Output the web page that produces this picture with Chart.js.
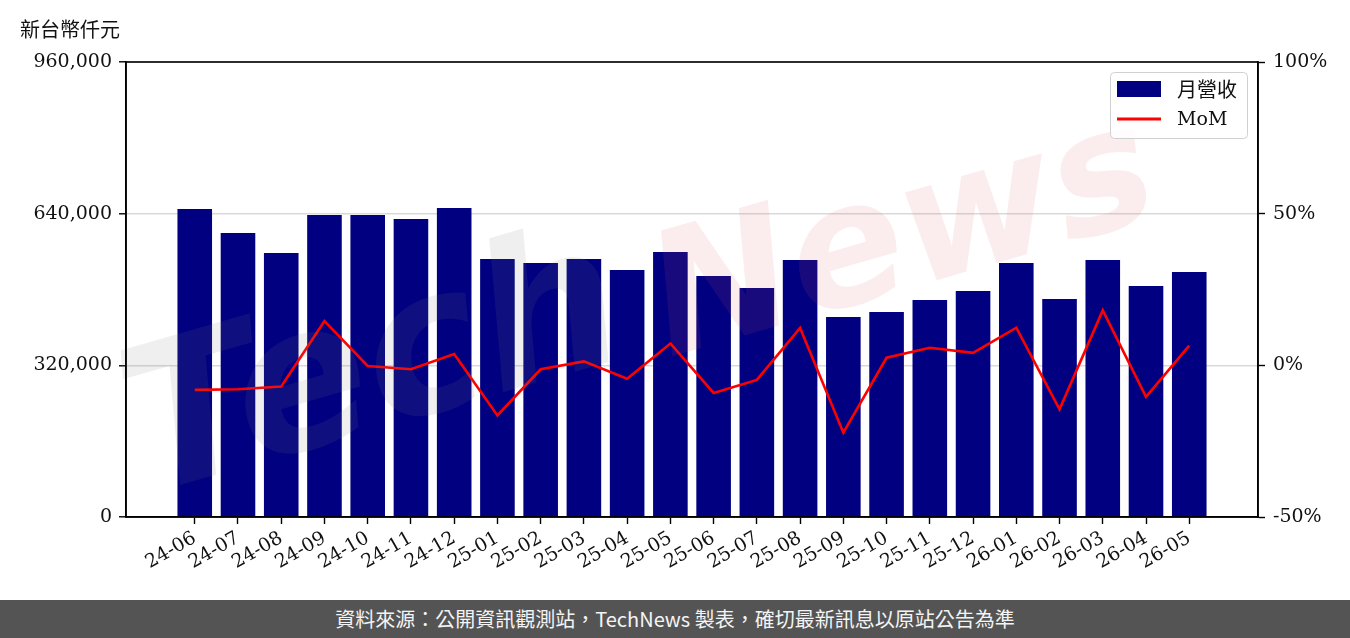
<!DOCTYPE html>
<html>
<head>
<meta charset="utf-8">
<script src="https://cdn.jsdelivr.net/npm/chart.js@4/dist/chart.umd.min.js"></script>
<style>
    body { margin: 0; background: #fff; }
    #wrap { position: relative; width: 1350px; height: 638px; overflow: hidden; }
    #unit { position: absolute; left: 20px; top: 14px; font: 20px "Noto Sans CJK TC", sans-serif; color: #111; }
    #footer { position: absolute; left: 0; top: 600px; width: 1350px; height: 38px; background: #545454;
              color: #f4f4f4; font: 20px "Noto Sans CJK TC", sans-serif; line-height: 38px; text-align: center; }
</style>
</head>
<body>
<div id="wrap">
    <canvas id="chart" width="1350" height="600"></canvas>
    <div id="unit">新台幣仟元</div>
    <div id="footer">資料來源：公開資訊觀測站，TechNews 製表，確切最新訊息以原站公告為準</div>
</div>
<script>
// Datos
const months = ['24-06', '24-07', '24-08', '24-09', '24-10', '24-11', '24-12',
    '25-01', '25-02', '25-03', '25-04', '25-05', '25-06', '25-07', '25-08', '25-09',
    '25-10', '25-11', '25-12', '26-01', '26-02', '26-03', '26-04', '26-05'];
const revenue = [649800, 599200, 557000, 637200, 637200, 628700, 652000,
    544400, 535900, 544400, 521100, 559100, 508500, 483200, 542200, 422000,
    432500, 457800, 476800, 535900, 460000, 542200, 487400, 516900];
const mom = [-8.1, -7.9, -7.0, 14.6, -0.2, -1.3, 3.7,
    -16.5, -1.3, 1.3, -4.4, 7.2, -9.1, -4.8, 12.3, -22.2,
    2.5, 5.8, 4.1, 12.4, -14.5, 18.1, -10.4, 6.5];
const leftTicks = [0, 320000, 640000, 960000];
const rightTicks = [-50, 0, 50, 100];
const legendLabels = ['月營收', 'MoM'];

const serif = '"DejaVu Serif", serif';
const cjk = '"Noto Sans CJK TC", sans-serif';

// Marca de agua
const watermarkPlugin = {
    id: 'watermark',
    afterDatasetsDraw(chart) {
        const { ctx } = chart;
        ctx.save();
        ctx.translate(640, 330);
        ctx.rotate(-0.28);
        ctx.textBaseline = 'middle';
        ctx.font = 'italic bold 200px "DejaVu Sans", sans-serif';
        ctx.fillStyle = 'rgba(120,120,120,0.12)';
        ctx.fillText('Tech', -520, -30);
        ctx.font = 'italic bold 170px "DejaVu Sans", sans-serif';
        ctx.fillStyle = 'rgba(220,90,90,0.11)';
        ctx.fillText('News', 20, -10);
        ctx.restore();
    }
};

// Marco completo + leyenda
const framePlugin = {
    id: 'frame',
    afterDraw(chart) {
        const { ctx, chartArea: a } = chart;
        ctx.save();
        ctx.strokeStyle = '#000';
        ctx.lineWidth = 1.6;
        ctx.strokeRect(a.left, a.top, a.right - a.left, a.bottom - a.top);

        // leyenda
        const bx = 1110.5, by = 72.5, bw = 137, bh = 66;
        ctx.beginPath();
        ctx.roundRect(bx, by, bw, bh, 4);
        ctx.fillStyle = 'rgba(255,255,255,0.85)';
        ctx.fill();
        ctx.strokeStyle = '#d0d0d0';
        ctx.lineWidth = 1;
        ctx.stroke();

        ctx.fillStyle = '#000080';
        ctx.fillRect(1117, 81, 44, 16);
        ctx.strokeStyle = '#ff0000';
        ctx.lineWidth = 3;
        ctx.beginPath();
        ctx.moveTo(1117, 119);
        ctx.lineTo(1161, 119);
        ctx.stroke();

        ctx.fillStyle = '#111';
        ctx.textBaseline = 'middle';
        ctx.font = '20px ' + cjk;
        ctx.fillText(legendLabels[0], 1177, 89);
        ctx.font = '19px ' + serif;
        ctx.fillText(legendLabels[1], 1177, 120);
        ctx.restore();
    }
};

const ctx = document.getElementById('chart').getContext('2d');
new Chart(ctx, {
    data: {
        datasets: [{
            type: 'line',
            label: legendLabels[1],
            data: mom.map((v, i) => ({ x: i, y: v })),
            yAxisID: 'y2',
            borderColor: '#ff0000',
            borderWidth: 2.6,
            pointRadius: 0,
            tension: 0,
            order: 0
        }, {
            type: 'bar',
            label: legendLabels[0],
            data: revenue.map((v, i) => ({ x: i, y: v })),
            yAxisID: 'y',
            backgroundColor: '#000080',
            barPercentage: 0.8,
            categoryPercentage: 1.0,
            order: 1
        }]
    },
    options: {
        responsive: false,
        devicePixelRatio: 1,
        animation: false,
        layout: { padding: { top: 62, right: 0, left: 0, bottom: 0 } },
        plugins: { legend: { display: false }, tooltip: { enabled: false } },
        scales: {
            x: {
                type: 'linear',
                offset: false,
                min: -1.59,
                max: 24.59,
                afterBuildTicks: scale => { scale.ticks = months.map((_, i) => ({ value: i })); },
                afterFit: scale => { scale.height = 83; },
                ticks: {
                    autoSkip: false,
                    minRotation: 30,
                    maxRotation: 30,
                    color: '#111',
                    font: { family: serif, size: 19 },
                    callback: v => months[v]
                },
                grid: { offset: false, drawOnChartArea: false, tickLength: 7, tickColor: '#000', tickWidth: 1.4 },
                border: { color: '#000', width: 1.6 }
            },
            y: {
                position: 'left',
                min: 0,
                max: 960000,
                afterBuildTicks: scale => { scale.ticks = leftTicks.map(v => ({ value: v })); },
                afterFit: scale => { scale.width = 126; },
                ticks: {
                    color: '#111',
                    padding: 7,
                    font: { family: serif, size: 19 },
                    callback: v => v.toLocaleString('en-US')
                },
                grid: { color: '#d9d9d9', lineWidth: 1.6, tickLength: 7, tickColor: '#000', tickWidth: 1.4 },
                border: { color: '#000', width: 1.6 }
            },
            y2: {
                position: 'right',
                min: -50,
                max: 100,
                afterBuildTicks: scale => { scale.ticks = rightTicks.map(v => ({ value: v })); },
                afterFit: scale => { scale.width = 92; },
                ticks: {
                    color: '#111',
                    padding: 8,
                    font: { family: serif, size: 19 },
                    callback: v => v + '%'
                },
                grid: { drawOnChartArea: false, tickLength: 7, tickColor: '#000', tickWidth: 1.4 },
                border: { color: '#000', width: 1.6 }
            }
        }
    },
    plugins: [watermarkPlugin, framePlugin]
});
</script>
</body>
</html>
